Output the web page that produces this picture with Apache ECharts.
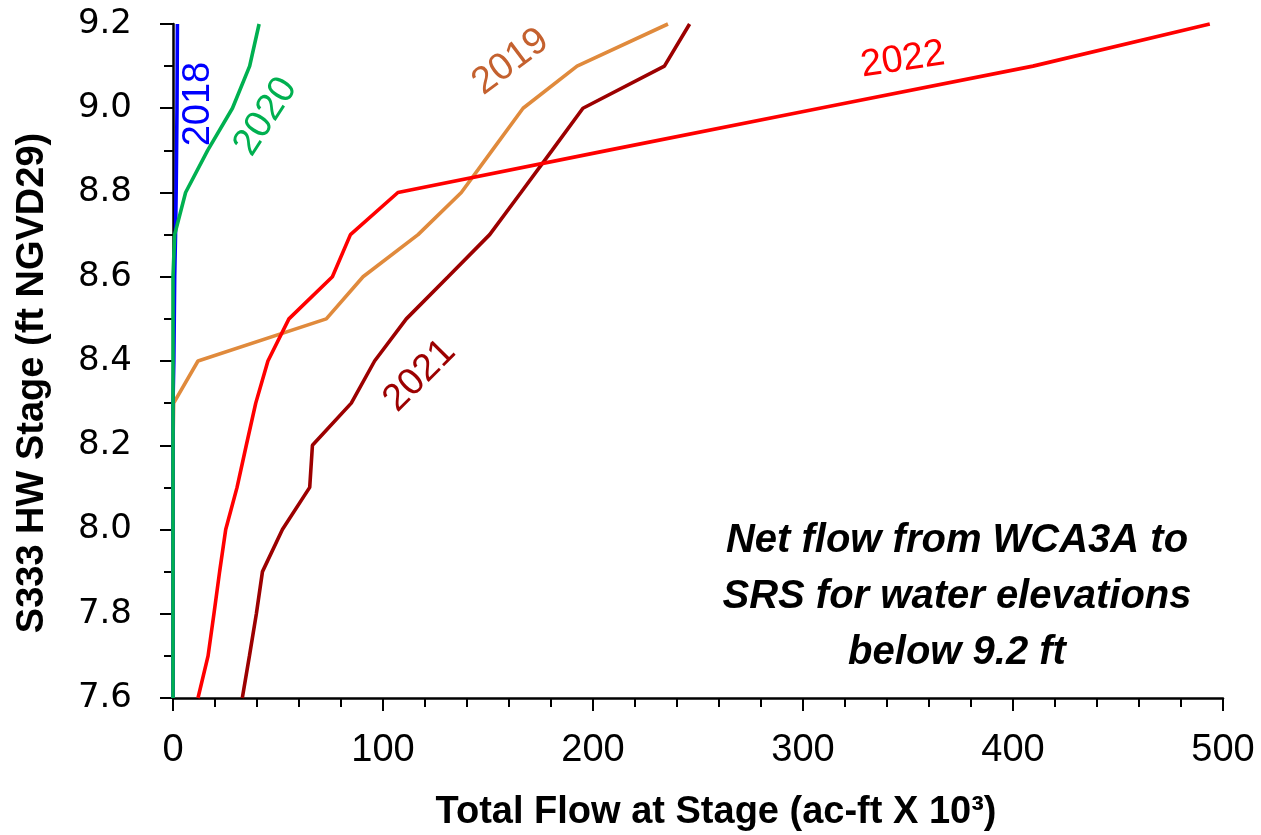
<!DOCTYPE html>
<html>
<head>
<meta charset="utf-8">
<script src="https://cdn.jsdelivr.net/npm/echarts@6/dist/echarts.min.js"></script>
<style>
html,body{margin:0;padding:0;background:#fff;}
#c{width:1261px;height:835px;}
</style>
</head>
<body>
<div id="c"></div>
<script>
// ---- data ----
const stages = [7.6,7.7,7.8,7.9,8.0,8.1,8.2,8.3,8.4,8.5,8.6,8.7,8.8,8.9,9.0,9.1,9.2];
const flow2018 = [0,0,0,0,0,0,0,0,0.4,0.6,0.8,1.2,1.5,1.7,1.9,2.0,2.1];
const flow2019 = [0,0,0,0,0,0,0,0.3,11.9,73.0,90.5,116.7,137.3,152.0,166.7,192.4,235.7];
const flow2020 = [0,0,0,0,0,0,0,0,0,0,0,0.8,6.0,16.5,28.3,36.5,41.0];
const flow2021 = [33.0,36.4,39.7,42.6,52.1,65.1,66.4,84.9,96.0,111.1,131.0,150.8,165.7,180.5,195.2,234.0,246.0];
const flow2022 = [11.9,16.7,19.5,22.2,25.1,30.5,34.9,39.4,45.2,55.2,75.9,84.5,107.1,207.0,308.0,409.5,493.7];
const xTicks = [0,100,200,300,400,500];
const yTicks = [7.6,7.8,8.0,8.2,8.4,8.6,8.8,9.0,9.2];
const seriesNames = ['2019','2018','2021','2022','2020'];
const seriesFlows = [flow2019, flow2018, flow2021, flow2022, flow2020];
const seriesColors = ['#E08A3C','#0000FF','#9C0000','#FF0000','#00B050'];
// label anchors (data coordinates) for the in-chart year labels
const labelNames = ['2018','2020','2019','2021','2022'];
const labelFlow = [12.2, 44.1, 160.8, 117.5, 347.5];
const labelStage = [9.01, 8.98, 9.11, 8.365, 9.115];

const labelRot = [90, 57, 37, 45, 8.5];
const labelColors = ['#0000FF','#00B050','#C4612F','#9C0000','#FF0000'];

const chart = echarts.init(document.getElementById('c'), null, {renderer:'canvas'});
const series = seriesNames.map((n,i)=>({
  name:n, type:'line', symbol:'none', clip:false,
  data: stages.map((s,j)=>[seriesFlows[i][j], s]),
  lineStyle:{color:seriesColors[i], width:3.6},
  itemStyle:{color:seriesColors[i]},
  animation:false
}));
chart.setOption({
  animation:false,
  backgroundColor:'#ffffff',
  grid:{left:173, right:38, top:24, bottom:137, containLabel:false},
  xAxis:{
    type:'value', min:xTicks[0], max:xTicks[xTicks.length-1], interval:100,
    axisLine:{show:true, lineStyle:{color:'#000', width:2.5}},
    axisTick:{show:true, length:13, lineStyle:{color:'#000', width:2}},
    minorTick:{show:true, splitNumber:5, length:9, lineStyle:{color:'#000', width:2}},
    splitLine:{show:false},
    axisLabel:{margin:34, color:'#000', fontSize:38, fontFamily:'"Liberation Sans", Arial, sans-serif'}
  },
  yAxis:{
    type:'value', min:yTicks[0], max:yTicks[yTicks.length-1], interval:0.2,
    axisLine:{show:true, lineStyle:{color:'#000', width:2.5}},
    axisTick:{show:true, length:13, lineStyle:{color:'#000', width:2}},
    minorTick:{show:true, splitNumber:2, length:9, lineStyle:{color:'#000', width:2}},
    splitLine:{show:false},
    axisLabel:{margin:41, color:'#000', fontSize:34, fontFamily:'"DejaVu Sans", Verdana, sans-serif',
      formatter:v=>v.toFixed(1)}
  },
  series: series
});

const graphics = [];
graphics.push({type:'text', x:33, y:383, rotation:Math.PI/2,
  style:{text:'S333 HW Stage (ft NGVD29)', fill:'#000', fontSize:38, fontWeight:'bold',
    fontFamily:'"Liberation Sans", Arial, sans-serif', align:'center', verticalAlign:'middle'}});
graphics.push({type:'text', x:716, y:813,
  style:{text:'Total Flow at Stage (ac-ft X 10³)', fill:'#000', fontSize:38, fontWeight:'bold',
    fontFamily:'"Liberation Sans", Arial, sans-serif', align:'center', verticalAlign:'middle'}});
graphics.push({type:'text', x:957, y:597,
  style:{text:'Net flow from WCA3A to\nSRS for water elevations\nbelow 9.2 ft', fill:'#000', fontSize:40,
    fontWeight:'bold', fontStyle:'italic', lineHeight:56,
    fontFamily:'"Liberation Sans", Arial, sans-serif', align:'center', verticalAlign:'middle'}});
labelNames.forEach((t,i)=>{
  const p = chart.convertToPixel({gridIndex:0}, [labelFlow[i], labelStage[i]]);
  graphics.push({type:'text', x:p[0], y:p[1], rotation:labelRot[i]*Math.PI/180,
    style:{text:t, fill:labelColors[i], fontSize:38, fontFamily:'"Liberation Sans", Arial, sans-serif',
      align:'center', verticalAlign:'middle'}});
});
chart.setOption({graphic:graphics});
</script>
</body>
</html>
